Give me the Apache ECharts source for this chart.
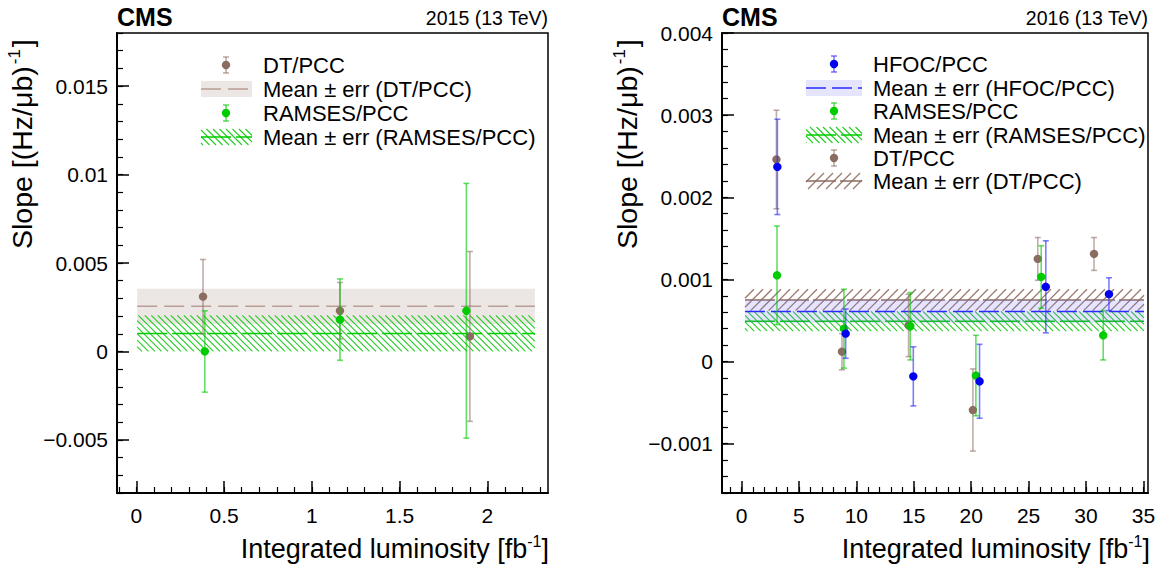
<!DOCTYPE html>
<html>
<head>
<meta charset="utf-8">
<script src="https://cdn.jsdelivr.net/npm/echarts@6/dist/echarts.min.js"></script>
<style>
html,body{margin:0;padding:0;background:#fff;}
#chart{width:1170px;height:567px;}
</style>
</head>
<body>
<div id="chart"></div>
<script>
// ---------------- data ----------------
// 2015 panel
const leftXTicks = [0, 0.5, 1, 1.5, 2];
const leftXLabels = ['0', '0.5', '1', '1.5', '2'];
const leftYTicks = [-0.005, 0, 0.005, 0.01, 0.015];
const leftYLabels = ['\u22120.005', '0', '0.005', '0.01', '0.015'];

const lumi2015DT = [0.38, 1.16, 1.90];
const slope2015DT = [0.0031, 0.0023, 0.00085];
const err2015DT = [0.0021, 0.0016, 0.0048];
const lumi2015RAMSES = [0.39, 1.16, 1.88];
const slope2015RAMSES = [0.0000, 0.0018, 0.0023];
const err2015RAMSES = [0.0023, 0.0023, 0.0072];
const band2015Range = [0.005, 2.27];
const mean2015DT = [0.00255, 0.0010];
const mean2015RAMSES = [0.00102, 0.00102];

// 2016 panel
const rightXTicks = [0, 5, 10, 15, 20, 25, 30, 35];
const rightXLabels = ['0', '5', '10', '15', '20', '25', '30', '35'];
const rightYTicks = [-0.001, 0, 0.001, 0.002, 0.003, 0.004];
const rightYLabels = ['\u22120.001', '0', '0.001', '0.002', '0.003', '0.004'];

const lumi2016HFOC = [3.12, 9.07, 14.96, 20.73, 26.5, 32.0];
const slope2016HFOC = [0.00237, 0.00034, -0.00018, -0.00024, 0.00091, 0.00082];
const err2016HFOC = [0.00058, 0.00030, 0.00036, 0.00045, 0.00056, 0.00020];
const lumi2016RAMSES = [3.09, 8.92, 14.70, 20.41, 26.1, 31.5];
const slope2016RAMSES = [0.00105, 0.00040, 0.00043, -0.00017, 0.00103, 0.00032];
const err2016RAMSES = [0.00060, 0.00048, 0.00041, 0.00049, 0.00038, 0.00030];
const lumi2016DT = [3.04, 8.75, 14.55, 20.15, 25.8, 30.7];
const slope2016DT = [0.00246, 0.00012, 0.00044, -0.00059, 0.00125, 0.00131];
const err2016DT = [0.00060, 0.00022, 0.00038, 0.00050, 0.00026, 0.00020];
const band2016Range = [0.3, 35.05];
const mean2016HFOC = [0.00061, 0.00014];
const mean2016RAMSES = [0.00049, 0.00012];
const mean2016DT = [0.00075, 0.00013];

// ---------------- styles ----------------
const FONT = '"Liberation Sans", Arial, Helvetica, sans-serif';
const C = {
  dt: '#8a6c60', dtBar: 'rgba(138,108,96,0.55)', dtLine: '#b89e94', dtFill: 'rgba(170,140,130,0.22)',
  ram: '#00cc00', ramBar: 'rgba(0,200,0,0.6)', ramHatch: '#22cc22',
  hf: '#0000ee', hfBar: 'rgba(40,40,255,0.6)', hfFill: 'rgba(110,110,255,0.18)', hfLine: '#2a2aff'
};

// ---------------- helpers ----------------
function hatch(x0, y0, w, h, spacing, dir, color, lw) {
  const x1 = x0 + w, y1 = y0 + h, out = [];
  if (dir === '\\') {
    for (let c = y0 - x1; c <= y1 - x0; c += spacing) {
      const xa = Math.max(x0, y0 - c), xb = Math.min(x1, y1 - c);
      if (xa < xb) out.push({type: 'line', shape: {x1: xa, y1: xa + c, x2: xb, y2: xb + c}, style: {stroke: color, lineWidth: lw}});
    }
  } else {
    for (let c = x0 + y0; c <= x1 + y1; c += spacing) {
      const xa = Math.max(x0, c - y1), xb = Math.min(x1, c - y0);
      if (xa < xb) out.push({type: 'line', shape: {x1: xa, y1: c - xa, x2: xb, y2: c - xb}, style: {stroke: color, lineWidth: lw}});
    }
  }
  return out;
}

function bandShapes(x, y, w, h, spec) {
  const kids = [];
  if (spec.fill) kids.push({type: 'rect', shape: {x: x, y: y, width: w, height: h}, style: {fill: spec.fill}});
  if (spec.hatch) kids.push.apply(kids, hatch(x, y, w, h, spec.hatch.sp, spec.hatch.dir, spec.hatch.color, spec.hatch.lw || 1));
  kids.push({type: 'line', shape: {x1: x, y1: y + h / 2, x2: x + w, y2: y + h / 2},
    style: {stroke: spec.line, lineWidth: 1.5, lineDash: spec.dash}});
  return kids;
}

function errShapes(cx, cy, ytop, ybot, spec) {
  return [
    {type: 'line', shape: {x1: cx, y1: ytop, x2: cx, y2: ybot}, style: {stroke: spec.bar, lineWidth: 1.6}},
    {type: 'line', shape: {x1: cx - 3, y1: ytop, x2: cx + 3, y2: ytop}, style: {stroke: spec.bar, lineWidth: 1.6}},
    {type: 'line', shape: {x1: cx - 3, y1: ybot, x2: cx + 3, y2: ybot}, style: {stroke: spec.bar, lineWidth: 1.6}},
    {type: 'circle', shape: {cx: cx, cy: cy, r: 4.2}, style: {fill: spec.dot}}
  ];
}

function errSeries(name, xi, lumi, slope, err, spec) {
  return {
    type: 'custom', name: name, xAxisIndex: xi, yAxisIndex: xi, clip: true, z: 5,
    data: lumi.map((l, i) => [l, slope[i], err[i]]),
    encode: {x: 0, y: 1},
    renderItem: function (params, api) {
      const x = api.value(0), y = api.value(1), e = api.value(2);
      const p = api.coord([x, y]), t = api.coord([x, y + e]), b = api.coord([x, y - e]);
      return {type: 'group', children: errShapes(p[0], p[1], t[1], b[1], spec)};
    }
  };
}

function bandSeries(name, xi, range, mean, spec) {
  return {
    type: 'custom', name: name, xAxisIndex: xi, yAxisIndex: xi, clip: true, z: 2,
    data: [[range[0], range[1], mean[0], mean[1]]],
    encode: {x: [0, 1], y: 2},
    renderItem: function (params, api) {
      const a = api.coord([api.value(0), api.value(2) + api.value(3)]);
      const b = api.coord([api.value(1), api.value(2) - api.value(3)]);
      return {type: 'group', children: bandShapes(a[0], a[1], b[0] - a[0], b[1] - a[1], spec)};
    }
  };
}

function labelOf(ticks, labels) {
  return function (v) {
    let best = 0;
    for (let i = 1; i < ticks.length; i++) if (Math.abs(ticks[i] - v) < Math.abs(ticks[best] - v)) best = i;
    return labels[best];
  };
}

function minorList(min, max, step) {
  const out = [];
  const start = Math.ceil(min / step - 1e-9);
  for (let k = start; k * step <= max + 1e-12; k++) out.push(+(k * step).toFixed(8));
  return out;
}

function majorAxis(gi, min, max, ticks, labels, isY) {
  return {
    type: 'value', gridIndex: gi, min: min, max: max, position: isY ? 'left' : 'bottom',
    axisLine: {show: true, onZero: false, lineStyle: {color: '#000', width: 2}},
    axisTick: {show: true, inside: true, length: 12, customValues: ticks, lineStyle: {color: '#000', width: 1.5}},
    axisLabel: {show: true, customValues: ticks, formatter: labelOf(ticks, labels), color: '#000',
      fontSize: 21, fontFamily: FONT, margin: isY ? 9 : 12},
    splitLine: {show: false}
  };
}
function minorAxis(gi, min, max, step, isY) {
  return {
    type: 'value', gridIndex: gi, min: min, max: max, position: isY ? 'left' : 'bottom',
    axisLine: {show: false, onZero: false},
    axisTick: {show: true, inside: true, length: 6, customValues: minorList(min, max, step), lineStyle: {color: '#000', width: 1.2}},
    axisLabel: {show: false}, splitLine: {show: false}
  };
}

// band specs
const S = {
  dt15: {fill: C.dtFill, line: C.dtLine, dash: [20, 7]},
  ram: {hatch: {sp: 6.5, dir: '\\', color: C.ramHatch, lw: 1.1}, line: C.ram, dash: [30, 5]},
  hf16: {fill: C.hfFill, line: C.hfLine, dash: [20, 6]},
  dt16: {hatch: {sp: 9, dir: '/', color: '#9a7a6e', lw: 1.3}, line: C.dt, dash: [30, 4]}
};
const P = {
  dt: {bar: C.dtBar, dot: C.dt},
  ram: {bar: C.ramBar, dot: C.ram},
  hf: {bar: C.hfBar, dot: C.hf}
};

const LX = [-0.11, 2.345], LY = [-0.008, 0.018];
const RX = [-1.7, 35.4], RY = [-0.0016, 0.004];

// ---------------- legends & texts (graphic) ----------------
const graphics = [];
function txt(x, y, text, size, opts) {
  graphics.push(Object.assign({type: 'text', x: x, y: y,
    style: Object.assign({text: text, fontSize: size, fontFamily: FONT, fill: '#000', align: 'left', verticalAlign: 'middle'}, opts || {})}));
}
function legendErr(cx, cy, spec) {
  graphics.push({type: 'group', children: errShapes(cx, cy, cy - 8, cy + 8, spec)});
}
function legendBand(x, cy, w, h, spec) {
  graphics.push({type: 'group', children: bandShapes(x, cy - h / 2, w, h, spec)});
}

const LF = 22;
// left legend
legendErr(226, 65, P.dt);            txt(263, 65, 'DT/PCC', LF);
legendBand(201, 89, 51, 16, S.dt15); txt(263, 89, 'Mean \u00b1 err (DT/PCC)', LF);
legendErr(226, 113, P.ram);          txt(263, 113, 'RAMSES/PCC', LF);
legendBand(201, 137, 51, 16, S.ram); txt(263, 137, 'Mean \u00b1 err (RAMSES/PCC)', LF);
// right legend
legendErr(834, 64, P.hf);            txt(873, 64, 'HFOC/PCC', LF);
legendBand(806, 88, 56, 16, S.hf16); txt(873, 88, 'Mean \u00b1 err (HFOC/PCC)', LF);
legendErr(834, 111, P.ram);          txt(873, 111, 'RAMSES/PCC', LF);
legendBand(806, 135, 56, 16, S.ram); txt(873, 135, 'Mean \u00b1 err (RAMSES/PCC)', LF);
legendErr(834, 158, P.dt);           txt(873, 158, 'DT/PCC', LF);
legendBand(806, 181, 56, 16, S.dt16); txt(873, 181, 'Mean \u00b1 err (DT/PCC)', LF);

// headers
txt(117, 17, 'CMS', 25, {fontWeight: 'bold'});
txt(548, 18, '2015 (13 TeV)', 19.5, {align: 'right'});
txt(722, 17, 'CMS', 25, {fontWeight: 'bold'});
txt(1148, 18, '2016 (13 TeV)', 19.5, {align: 'right'});

// axis titles with superscripts
const richX = {a: {fontSize: 27, fontFamily: FONT, fill: '#000'}, s: {fontSize: 16, fontFamily: FONT, fill: '#000', padding: [0, 0, 15, 0]}};
const richY = {a: {fontSize: 28.5, fontFamily: FONT, fill: '#000'}, s: {fontSize: 17, fontFamily: FONT, fill: '#000', padding: [0, 2, 15, 2]}};
function xTitle(xr) {
  graphics.push({type: 'text', x: xr, y: 549, style: {text: '{a|Integrated luminosity [fb}{s|-1}{a|]}', rich: richX, align: 'right', verticalAlign: 'middle'}});
}
function yTitle(xc) {
  graphics.push({type: 'text', x: xc, y: 249, rotation: Math.PI / 2,
    style: {text: '{a|Slope [(Hz/\u03bcb)}{s|-1}{a|]}', rich: richY, align: 'left', verticalAlign: 'middle'}});
}
xTitle(549); xTitle(1150);
yTitle(22); yTitle(627);

// ---------------- option ----------------
const option = {
  animation: false,
  backgroundColor: '#fff',
  grid: [
    {left: 117, top: 33, width: 431, height: 460, show: true, borderColor: '#000', borderWidth: 1.5, backgroundColor: 'transparent'},
    {left: 722, top: 33, width: 426, height: 460, show: true, borderColor: '#000', borderWidth: 1.5, backgroundColor: 'transparent'}
  ],
  xAxis: [
    majorAxis(0, LX[0], LX[1], leftXTicks, leftXLabels, false),
    minorAxis(0, LX[0], LX[1], 0.1, false),
    majorAxis(1, RX[0], RX[1], rightXTicks, rightXLabels, false),
    minorAxis(1, RX[0], RX[1], 1, false)
  ],
  yAxis: [
    majorAxis(0, LY[0], LY[1], leftYTicks, leftYLabels, true),
    minorAxis(0, LY[0], LY[1], 0.001, true),
    majorAxis(1, RY[0], RY[1], rightYTicks, rightYLabels, true),
    minorAxis(1, RY[0], RY[1], 0.0002, true)
  ],
  series: [
    bandSeries('Mean ± err (DT/PCC) 2015', 0, band2015Range, mean2015DT, S.dt15),
    bandSeries('Mean ± err (RAMSES/PCC) 2015', 0, band2015Range, mean2015RAMSES, S.ram),
    errSeries('DT/PCC 2015', 0, lumi2015DT, slope2015DT, err2015DT, P.dt),
    errSeries('RAMSES/PCC 2015', 0, lumi2015RAMSES, slope2015RAMSES, err2015RAMSES, P.ram),

    bandSeries('Mean ± err (DT/PCC) 2016', 2, band2016Range, mean2016DT, S.dt16),
    bandSeries('Mean ± err (RAMSES/PCC) 2016', 2, band2016Range, mean2016RAMSES, S.ram),
    bandSeries('Mean ± err (HFOC/PCC) 2016', 2, band2016Range, mean2016HFOC, S.hf16),
    errSeries('DT/PCC 2016', 2, lumi2016DT, slope2016DT, err2016DT, P.dt),
    errSeries('RAMSES/PCC 2016', 2, lumi2016RAMSES, slope2016RAMSES, err2016RAMSES, P.ram),
    errSeries('HFOC/PCC 2016', 2, lumi2016HFOC, slope2016HFOC, err2016HFOC, P.hf)
  ],
  graphic: graphics
};

const chart = echarts.init(document.getElementById('chart'), null, {renderer: 'svg', width: 1170, height: 567});
chart.setOption(option);
</script>
</body>
</html>
